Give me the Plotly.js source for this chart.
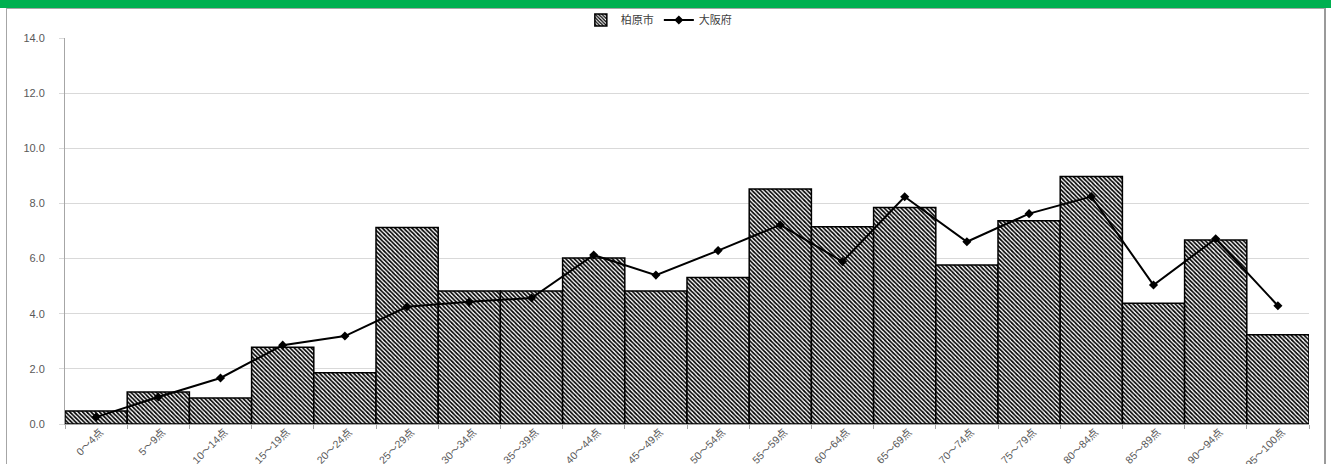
<!DOCTYPE html>
<html>
<head>
<meta charset="utf-8">
<script src="https://cdn.plot.ly/plotly-3.0.1.min.js"></script>
<style>
html,body{margin:0;padding:0;background:#fff;}
#wrap{position:relative;width:1331px;height:464px;overflow:hidden;}
#band{position:absolute;left:0;top:0;width:1331px;height:8px;background:#00b050;}
#frame{position:absolute;left:6px;top:8px;width:1320px;height:470px;border-left:1px solid #a6a6a6;border-top:1px solid #a6a6a6;border-right:2px solid #9a9a9a;box-sizing:border-box;pointer-events:none;}
#chart{position:absolute;left:0;top:0;width:1331px;height:464px;}
</style>
</head>
<body>
<div id="wrap">
<div id="chart"></div>
<div id="band"></div>
<div id="frame"></div>
</div>
<script>
const categories = ["0～4点","5～9点","10～14点","15～19点","20～24点","25～29点","30～34点","35～39点","40～44点","45～49点","50～54点","55～59点","60～64点","65～69点","70～74点","75～79点","80～84点","85～89点","90～94点","95～100点"];
const kashiwara = [0.47,1.16,0.94,2.78,1.86,7.13,4.82,4.82,6.02,4.82,5.31,8.52,7.15,7.85,5.77,7.37,8.98,4.38,6.67,3.24];
const osaka = [0.25,0.98,1.67,2.86,3.19,4.25,4.43,4.57,6.13,5.40,6.29,7.22,5.89,8.24,6.61,7.63,8.25,5.04,6.72,4.29];
const seriesNames = ["柏原市","大阪府"];

const font = "Liberation Sans, Noto Sans CJK JP, sans-serif";

const traces = [
  {
    type: "bar",
    name: seriesNames[0],
    x: categories,
    y: kashiwara,
    marker: {
      color: "#ffffff",
      line: {color: "#000000", width: 1.5},
      pattern: {shape: "\\", fgcolor: "#000000", bgcolor: "#ffffff", size: 3, solidity: 0.55}
    }
  },
  {
    type: "scatter",
    mode: "lines+markers",
    name: seriesNames[1],
    x: categories,
    y: osaka,
    line: {color: "#000000", width: 2},
    marker: {symbol: "diamond", size: 7, color: "#000000"}
  }
];

const layout = {
  width: 1331,
  height: 464,
  margin: {l: 65, r: 22, t: 38, b: 40},
  paper_bgcolor: "#ffffff",
  plot_bgcolor: "#ffffff",
  bargap: 0,
  font: {family: font, size: 11, color: "#595959"},
  showlegend: true,
  legend: {
    orientation: "h",
    xref: "container",
    yref: "container",
    x: 0.495, xanchor: "center",
    y: 0.957, yanchor: "middle",
    font: {family: "Noto Sans CJK JP, sans-serif", size: 11, color: "#404040"},
    itemwidth: 30,
    tracegroupgap: 0,
    traceorder: "normal"
  },
  xaxis: {
    type: "category",
    range: [-0.5, 19.5],
    tickangle: -45,
    tickson: "boundaries",
    ticks: "outside",
    ticklen: 4,
    tickcolor: "#a6a6a6",
    showline: true,
    linecolor: "#a6a6a6",
    linewidth: 1,
    showgrid: false,
    ticklabelstandoff: -3,
    ticklabelshift: 4,
    tickfont: {family: font, size: 10.5, color: "#595959"},
    automargin: false
  },
  yaxis: {
    range: [0, 14],
    dtick: 2,
    tickformat: ".1f",
    ticks: "outside",
    ticklen: 5,
    tickcolor: "#d9d9d9",
    showline: true,
    linecolor: "#a6a6a6",
    gridcolor: "#d9d9d9",
    gridwidth: 1,
    zeroline: false,
    ticklabelstandoff: 12,
    automargin: false,
    tickfont: {family: font, size: 11, color: "#595959"}
  }
};

Plotly.newPlot("chart", traces, layout, {displayModeBar: false, staticPlot: true});
</script>
</body>
</html>
